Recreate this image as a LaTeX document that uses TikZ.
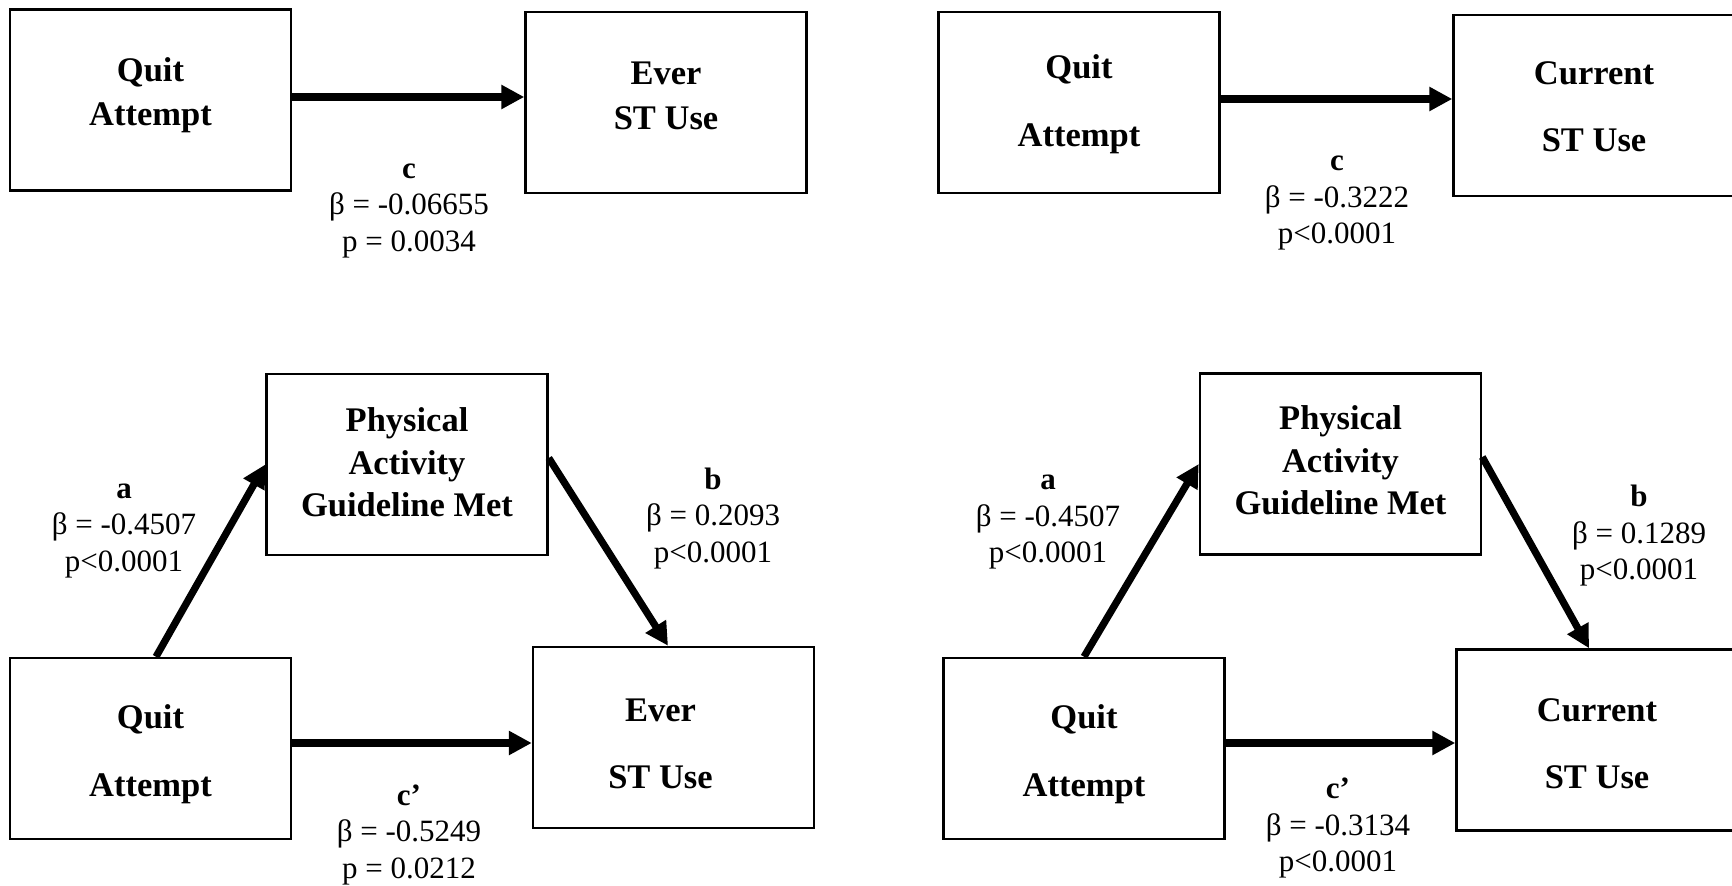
\documentclass[tikz,border=0pt]{standalone}
\usepackage{fontspec}
\setmainfont{Liberation Serif}
\usetikzlibrary{arrows.meta}
\newcommand{\bxt}[3]{\rule{0pt}{#1}#3\rule[-#2]{0pt}{#2}}
\begin{document}
\begin{tikzpicture}[x=0.5pt,y=-0.5pt,
  box/.style={draw, line width=1.25pt, minimum width=140.5pt, minimum height=90.5pt, inner sep=0pt, align=center, font=\bfseries\fontsize{17.25}{#1}\selectfont},
  box/.default=21.5pt,
  lab/.style={align=center, inner sep=0pt, font=\fontsize{15.5}{18.25}\selectfont},
  arr/.style={line width=3.6pt, -{Triangle[length=11.5pt,width=11.5pt]}}]
\useasboundingbox (0,0) rectangle (1732,886);
\fill[white] (0,0) rectangle (1732,886);

% top left
\node[box=21.65pt] (qa1) at (150.5,100) {\bxt{13.5pt}{10pt}{Quit\\Attempt}};
\node[box=22.5pt] (ev1) at (666,102.5) {\bxt{15pt}{10pt}{Ever\\ST Use}};
\draw[arr] ([yshift=1.5pt]qa1.east) -- ([yshift=1.5pt]qa1.east -| ev1.west);
\node[lab] (lc1) at (409,211) {\textbf{c}\\β = -0.06655\\p = 0.0034};

% top right
\node[box=34.15pt] (qa2) at (1079,102.5) {\bxt{20pt}{10pt}{Quit\\Attempt}};
\node[box=33.35pt] (cu1) at (1594,105.5) {\bxt{22.85pt}{10pt}{Current\\ST Use}};
\draw[arr] ([yshift=1.75pt]qa2.east) -- ([yshift=1.75pt]qa2.east -| cu1.west);
\node[lab] (lc2) at (1337,203.5) {\textbf{c}\\β = -0.3222\\p<0.0001};

% bottom left
\node[box=21.25pt] (pa1) at (407,464.5) {\bxt{19.7pt}{10pt}{Physical\\Activity\\Guideline Met}};
\node[box=34.15pt] (qa3) at (150.5,748.5) {\bxt{24pt}{10pt}{Quit\\Attempt}};
\node[box=33.35pt] (ev2) at (673.5,737.5) {\bxt{27.5pt}{10pt}{\hspace*{-13pt}Ever\\\hspace*{-13pt}ST Use}};
\draw[arr] ([xshift=2.75pt]qa3.north) -- (pa1.west);
\draw[arr] ([yshift=3.25pt]pa1.east) -- ([xshift=-2.75pt]ev2.north);
\draw[arr] ([yshift=2.75pt]qa3.east) -- ([yshift=2.75pt]qa3.east -| ev2.west);
\node[lab] (la1) at (124,531) {\textbf{a}\\β = -0.4507\\p<0.0001};
\node[lab] (lb1) at (713,518.5) {\textbf{b}\\β = 0.2093\\p<0.0001};
\node[lab] (ld1) at (409,834.5) {\textbf{c’}\\β = -0.5249\\p = 0.0212};

% bottom right
\node[box=21.25pt] (pa2) at (1340.5,464) {\bxt{18.5pt}{10pt}{Physical\\Activity\\Guideline Met}};
\node[box=34.15pt] (qa4) at (1084,748.5) {\bxt{24pt}{10pt}{Quit\\Attempt}};
\node[box=33.35pt] (cu2) at (1597,740) {\bxt{25pt}{10pt}{Current\\ST Use}};
\draw[arr] (qa4.north) -- (pa2.west);
\draw[arr] ([yshift=3.5pt]pa2.east) -- ([xshift=-4pt]cu2.north);
\draw[arr] ([yshift=2.75pt]qa4.east) -- ([yshift=2.75pt]qa4.east -| cu2.west);
\node[lab] (la2) at (1048,522.5) {\textbf{a}\\β = -0.4507\\p<0.0001};
\node[lab] (lb2) at (1639,536) {\textbf{b}\\β = 0.1289\\p<0.0001};
\node[lab] (ld2) at (1338,828) {\textbf{c’}\\β = -0.3134\\p<0.0001};
\end{tikzpicture}
\end{document}
